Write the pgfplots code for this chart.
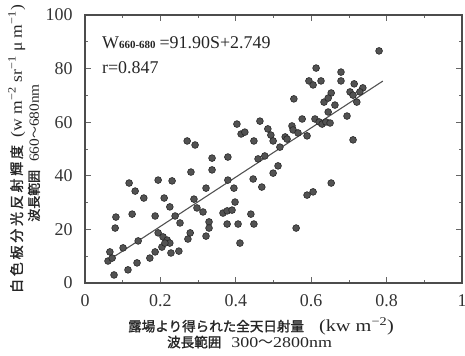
\documentclass[border=0pt]{standalone}
\usepackage{fontspec}
\setmainfont{Liberation Serif}
\newfontfamily\cjk[FakeBold=1.5]{Noto Sans CJK JP}
\newfontfamily\cjkn{Noto Sans CJK JP}
\newfontfamily\wserif[FakeStretch=1.2]{Liberation Serif}
\newfontfamily\vserif[FakeStretch=1.1]{Liberation Serif}
\usepackage{pgfplots}
\pgfplotsset{compat=1.18}
\pgfplotstableread{
x y
0.077 3.0
0.114 4.9
0.138 7.5
0.061 8.2
0.072 9.3
0.066 11.6
0.101 13.1
0.141 15.7
0.080 20.5
0.082 24.6
0.125 25.7
0.117 37.3
0.133 34.3
0.156 31.7
0.186 25.0
0.194 38.4
0.172 9.3
0.186 11.6
0.204 13.4
0.228 11.2
0.249 11.9
0.194 18.7
0.207 17.2
0.218 16.0
0.225 14.9
0.212 14.9
0.210 31.7
0.225 28.4
0.231 38.1
0.239 25.0
0.252 22.4
0.271 53.0
0.292 51.5
0.281 41.4
0.289 31.3
0.297 28.0
0.279 18.7
0.273 16.4
0.313 26.5
0.321 35.4
0.329 22.8
0.329 20.5
0.321 17.5
0.337 46.6
0.337 42.2
0.379 47.0
0.379 38.4
0.395 35.4
0.398 30.2
0.366 26.1
0.377 26.9
0.390 27.2
0.377 22.0
0.406 22.0
0.411 14.9
0.403 59.3
0.414 55.6
0.424 56.3
0.448 53.0
0.464 60.4
0.446 38.8
0.469 35.8
0.440 25.7
0.448 22.0
0.459 46.3
0.477 47.4
0.485 57.5
0.780 86.6
0.613 80.2
0.594 75.4
0.605 73.9
0.626 75.4
0.679 78.7
0.679 75.4
0.714 74.3
0.703 71.3
0.711 70.1
0.737 72.8
0.729 71.3
0.721 67.5
0.663 66.4
0.645 63.8
0.554 68.7
0.576 61.2
0.610 61.2
0.621 60.1
0.629 59.3
0.639 60.1
0.650 59.7
0.695 62.3
0.711 53.4
0.549 58.6
0.552 57.1
0.565 56.0
0.531 54.5
0.536 53.7
0.589 54.9
0.517 50.7
0.493 55.2
0.499 53.0
0.512 43.7
0.499 41.0
0.653 37.3
0.589 32.8
0.605 34.0
0.560 20.5
0.653 70.9
0.634 67.5
0.645 69.0
}\pts
\pgfplotstableread{
x y
0.06 8.26
0.79 75.35
}\fitline
\begin{document}
\begin{tikzpicture}
\useasboundingbox (0,0) rectangle (465bp,356bp);
\begin{axis}[
  at={(85bp,73bp)}, anchor=south west,
  width=377bp, height=268bp, scale only axis,
  xmin=0, xmax=1, ymin=0, ymax=100,
  xtick={0,0.2,0.4,0.6,0.8,1}, xticklabels={0,0.2,0.4,0.6,0.8,1},
  minor xtick={0.1,0.3,0.5,0.7,0.9},
  ytick={0,20,40,60,80,100},
  minor ytick={10,30,50,70,90},
  tick align=inside, xtick pos=both, ytick pos=both,
  major tick length=6bp, minor tick length=3bp,
  tick style={black!60, line width=0.8bp},
  axis line style={black!70, line width=1.2bp},
  /pgf/number format/assume math mode=true,
  tick label style={font=\fontsize{18}{18}\selectfont, text=black!80},
  xticklabel style={yshift=-8bp},
  yticklabel style={xshift=-9bp},
  xlabel={{\cjk\fontsize{13.6}{14}\selectfont 露場より得られた全天日射量}\hspace{15bp}{\wserif\fontsize{17}{15}\selectfont (kw m\textsuperscript{−2})}\\{\cjk\fontsize{13.6}{14}\selectfont 波長範囲}\hspace{10bp}{\wserif\fontsize{15}{15}\selectfont 300}{\cjkn\fontsize{15}{15}\selectfont ～}{\wserif\fontsize{15}{15}\selectfont 2800nm}\hspace*{23bp}},
  xlabel style={at={(axis description cs:0.467,0)}, anchor=north, yshift=-34bp, inner sep=0pt,
     align=center, font=\fontsize{15}{16}\selectfont, text=black!85},
  ylabel={{\cjk\fontsize{14}{14}\selectfont\addfontfeatures{LetterSpace=20}白色板分光反射輝度}\hspace{8bp}{\vserif (w m\textsuperscript{−2} sr\textsuperscript{−1} μ m\textsuperscript{−1})}\\{\cjk\fontsize{13}{12}\selectfont 波長範囲}\hspace{8bp}{\vserif\fontsize{14}{14}\selectfont 660}{\cjkn\fontsize{12}{12}\selectfont ～}{\vserif\fontsize{14}{14}\selectfont 680nm}\hspace*{8bp}},
  ylabel style={at={(axis description cs:-0.119,0.5)}, anchor=south, inner sep=0pt,
     align=center, font=\fontsize{16}{17}\selectfont, text=black!85},
  clip=false,
]
\addplot[only marks, mark=*, mark size=3.4bp, mark options={fill=black!68, draw=black!85, line width=0.6bp}] table[x=x,y=y] {\pts};
\addplot[no marks, black!68, line width=1.1bp] table[x=x,y=y] {\fitline};
\node[anchor=base west, inner sep=0pt, font=\fontsize{18}{18}\selectfont, text=black!85] at (axis cs:0.045,87.6) {W{\fontsize{11}{11}\selectfont\bfseries 660-680}\hspace{4bp}=91.90S+2.749};
\node[anchor=base west, inner sep=0pt, font=\fontsize{18}{18}\selectfont, text=black!85] at (axis cs:0.045,78.3) {r=0.847};
\end{axis}
\end{tikzpicture}
\end{document}
